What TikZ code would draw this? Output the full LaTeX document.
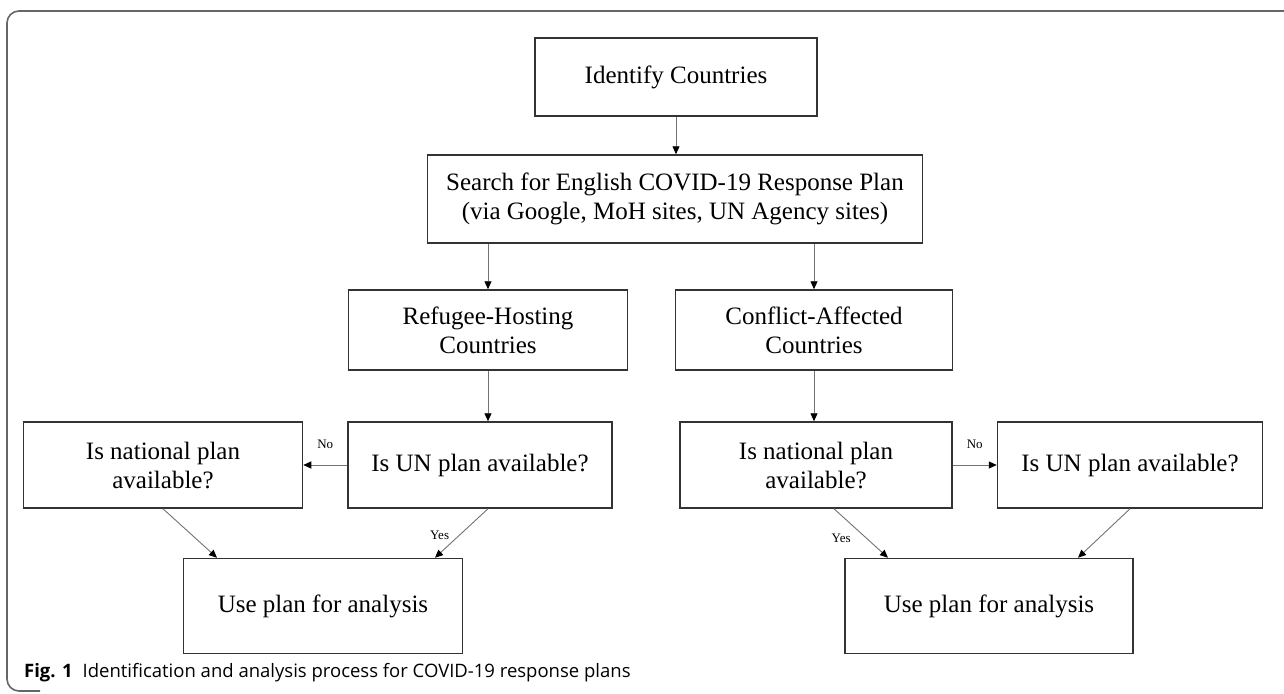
\documentclass[tikz,border=0pt]{standalone}
\usepackage{fontspec}
\setmainfont{Liberation Serif}
\newfontfamily\capfont{Open Sans}
\usepackage{tikz}
\usetikzlibrary{arrows.meta,positioning,calc}

\begin{document}
\begin{tikzpicture}[x=1pt, y=-1pt,
  box/.style={draw=black!80, line width=1.5pt, align=center, inner sep=0pt,
    font=\fontsize{25}{29}\selectfont},
  arr/.style={draw=black!55, line width=0.9pt, -{Triangle[length=8pt,width=7pt,black]}},
  lbl/.style={font=\fontsize{13}{15}\selectfont}]
\useasboundingbox (0,0) rectangle (1284,693);

% Outer frame
\draw[black!60, line width=1.6pt, rounded corners=12pt] (1300,11) -| (7,691) -- (40,691);

% Top of the flow
\node[box, minimum width=282pt, minimum height=78pt] (ident) at (676,77) {Identify Countries};
\node[box, minimum width=495pt, minimum height=88pt] (search) at (675,199)
  {Search for English COVID-19 Response Plan\\(via Google, MoH sites, UN Agency sites)};

% Two groups
\node[box, minimum width=279pt, minimum height=80pt] (refugee) at (488,330) {Refugee-Hosting\\Countries};
\node[box, minimum width=277pt, minimum height=80pt] (conflict) at (814,330) {Conflict-Affected\\Countries};

% Availability checks
\node[box, minimum width=279pt, minimum height=86pt] (natL) at (163,465) {Is national plan\\available?};
\node[box, minimum width=264pt, minimum height=86pt] (unL) at (480,465) {Is UN plan available?};
\node[box, minimum width=272pt, minimum height=86pt] (natR) at (816,465) {Is national plan\\available?};
\node[box, minimum width=265pt, minimum height=86pt] (unR) at (1130,465) {Is UN plan available?};

% Outcome
\node[box, minimum width=279pt, minimum height=95pt] (useL) at (323,606) {Use plan for analysis};
\node[box, minimum width=288pt, minimum height=95pt] (useR) at (989,606) {Use plan for analysis};

% Connectors
\draw[arr] (ident.south) -- (ident.south |- search.north);
\draw[arr] (refugee.north |- search.south) -- (refugee.north);
\draw[arr] (conflict.north |- search.south) -- (conflict.north);
\draw[arr] (refugee.south) -- (refugee.south |- unL.north);
\draw[arr] (conflict.south) -- (conflict.south |- natR.north);

\draw[arr] (unL.west) -- node[lbl, above=13pt] (noL) {No} (natL.east);
\draw[arr] (natR.east) -- node[lbl, above=13pt] (noR) {No} (unR.west);

\draw[arr] (natL.south) -- ([xshift=-106pt]useL.north);
\draw[arr] ([xshift=8pt]unL.south) -- node[lbl, pos=0.55, left=6pt] (yesL) {Yes} ([xshift=112pt]useL.north);
\draw[arr] ([xshift=18pt]natR.south) -- node[lbl, pos=0.6, left=12pt] (yesR) {Yes} ([xshift=-101pt]useR.north);
\draw[arr] (unR.south) -- ([xshift=89pt]useR.north);

% Caption
\node[anchor=west, font=\capfont\fontsize{18.5}{22}\selectfont, inner sep=0pt] (cap) at (24,673)
  {\textbf{Fig. 1}\hspace{10pt}Identification and analysis process for COVID-19 response plans};
\end{tikzpicture}
\end{document}
